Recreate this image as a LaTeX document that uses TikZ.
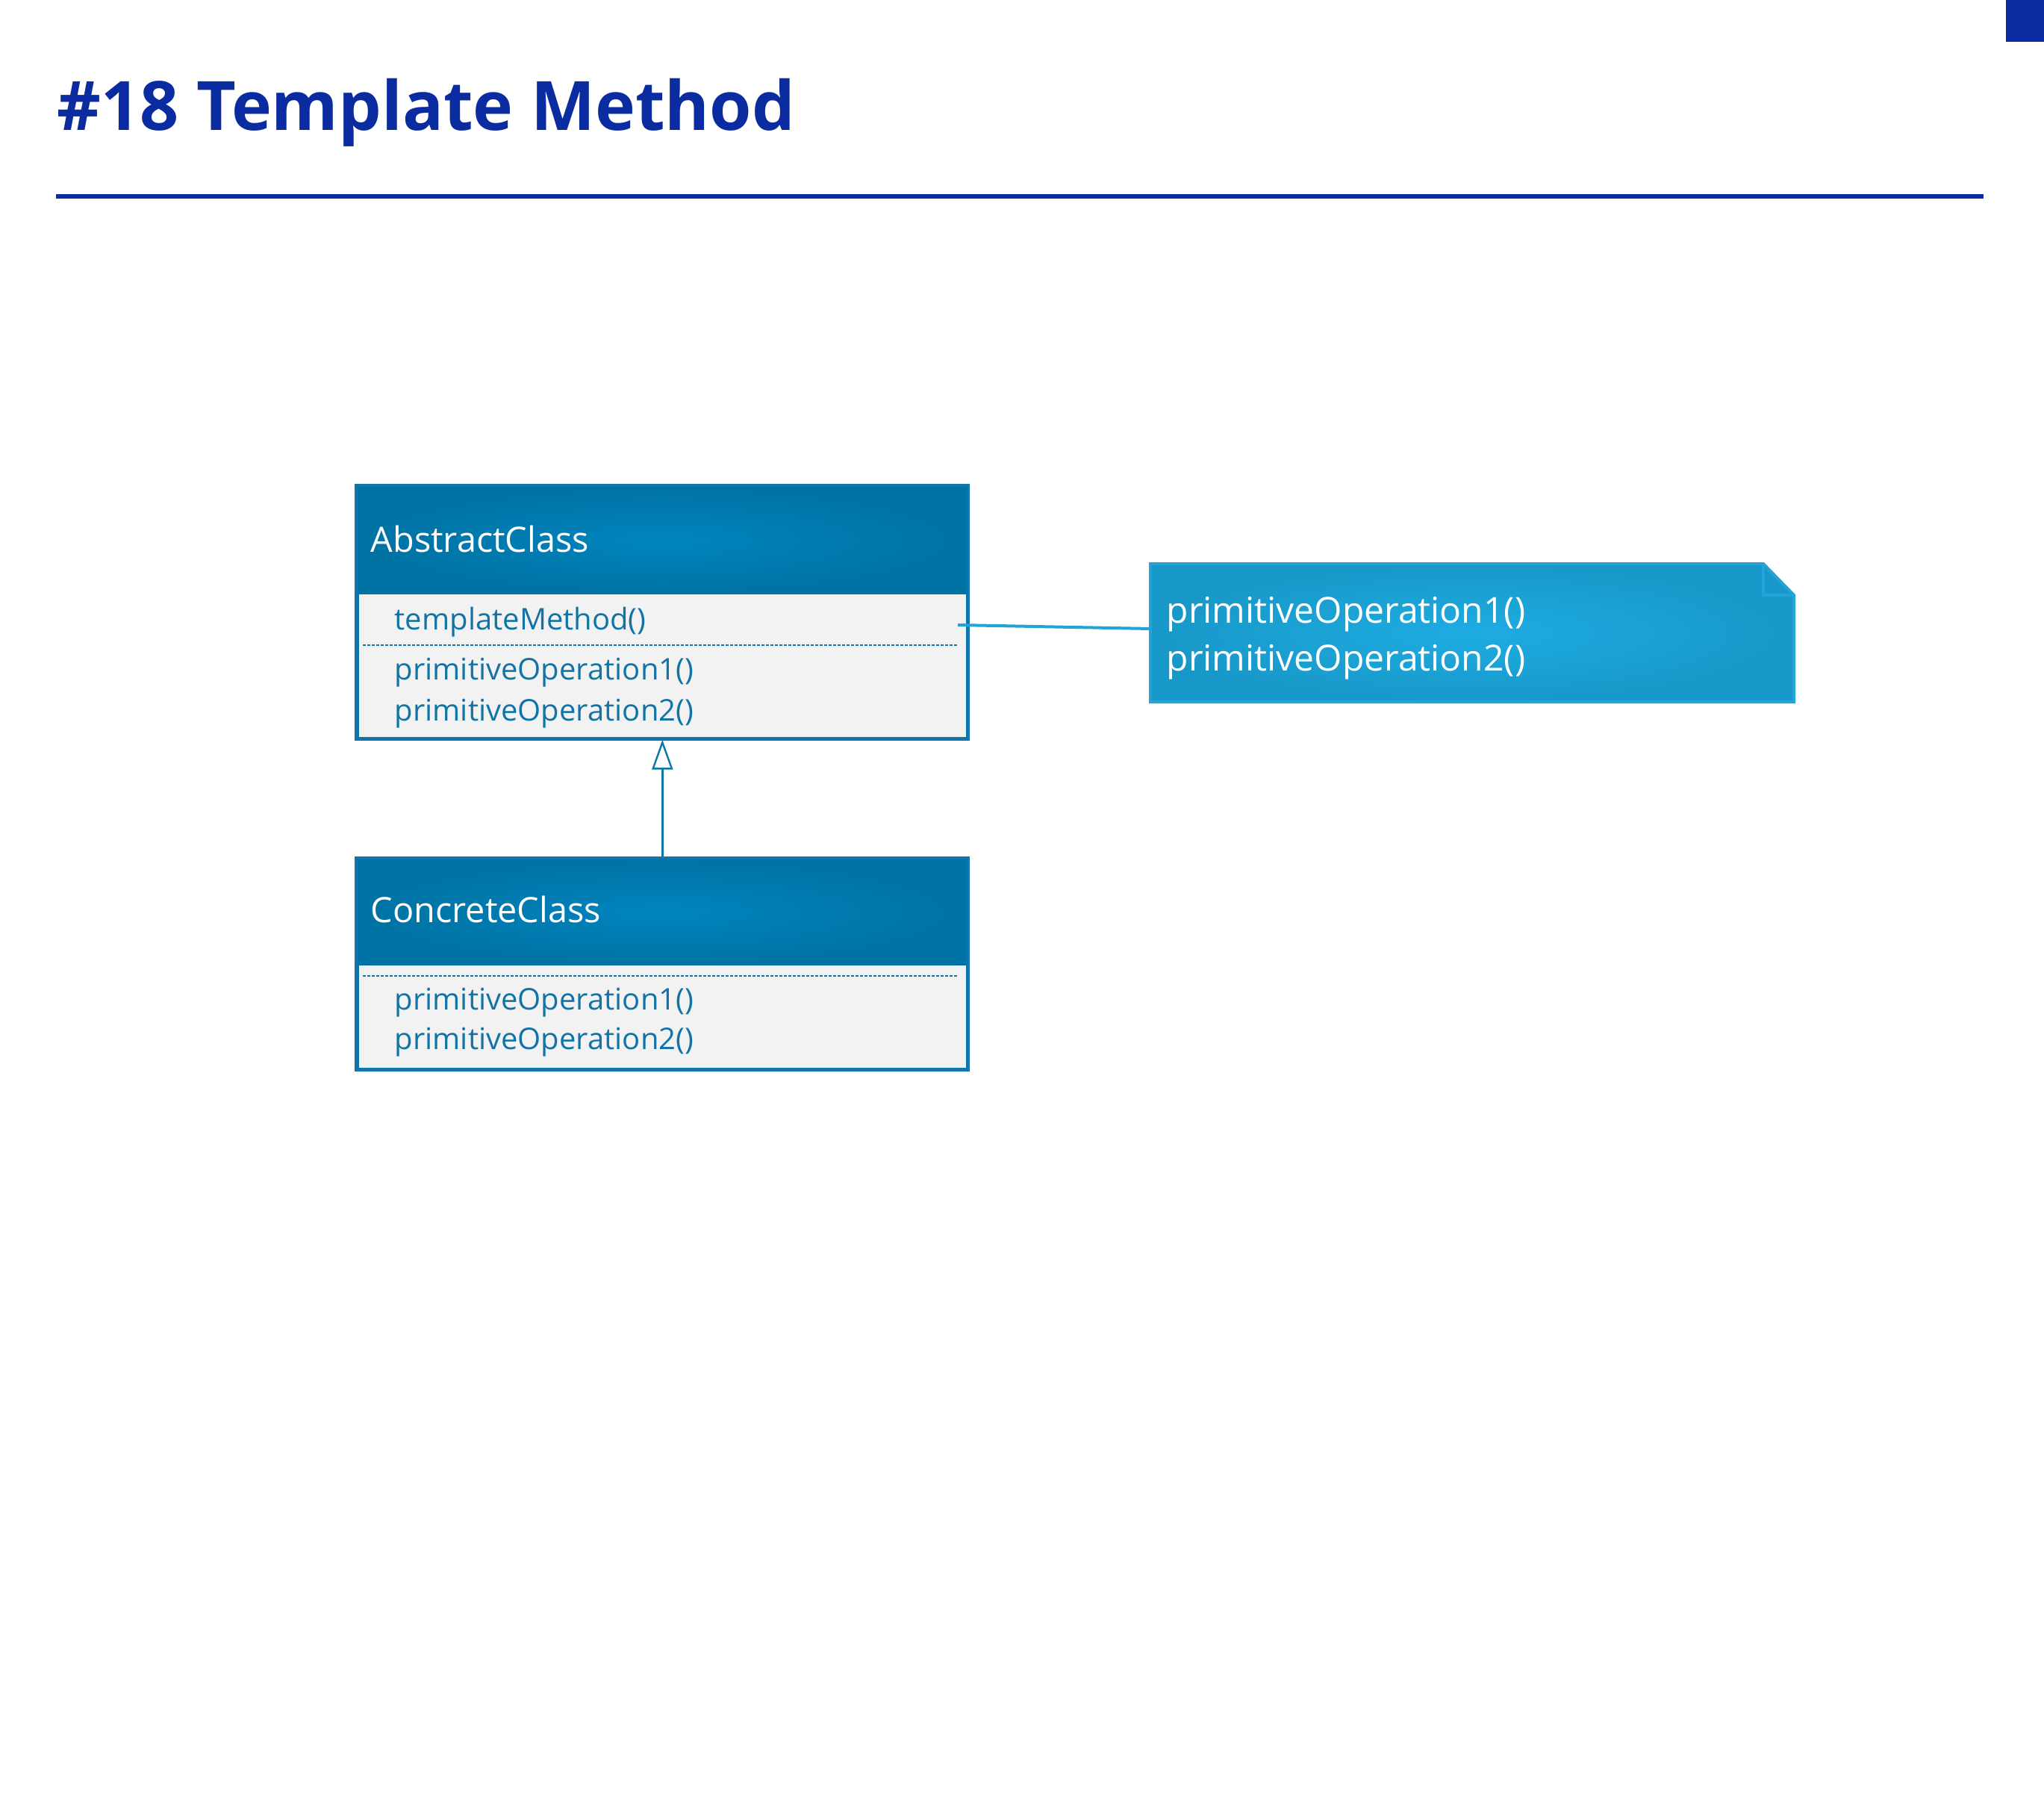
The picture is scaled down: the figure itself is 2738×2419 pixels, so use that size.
\documentclass[tikz,border=0pt]{standalone}
\usepackage{fontspec}
\setmainfont{Open Sans}
\usetikzlibrary{arrows.meta}
\definecolor{titleblue}{RGB}{11,44,160}
\definecolor{headA}{RGB}{0,133,190}
\definecolor{headB}{RGB}{0,114,163}
\definecolor{clsborder}{RGB}{16,118,170}
\definecolor{bodyfill}{RGB}{242,242,242}
\definecolor{bodytext}{RGB}{18,116,166}
\definecolor{noteA}{RGB}{30,172,226}
\definecolor{noteB}{RGB}{24,152,200}
\definecolor{noteline}{RGB}{34,164,216}
\begin{document}
\begin{tikzpicture}[x=0.25pt,y=-0.25pt,
  classbox/.style={draw=clsborder, line width=0.9pt, fill=bodyfill, anchor=north west, inner sep=0pt, minimum width=204.25pt},
  headbox/.style={anchor=north west, inner sep=0pt, minimum width=204.25pt, shading=radial, inner color=headA, outer color=headB},
  headtext/.style={anchor=base west, inner sep=0pt, text=white, font=\fontsize{11.7pt}{14pt}\selectfont},
  optext/.style={anchor=base west, inner sep=0pt, text=bodytext, font=\fontsize{10pt}{12pt}\selectfont},
  notetext/.style={anchor=base west, inner sep=0pt, text=white, font=\fontsize{12pt}{14pt}\selectfont},
  sepline/.style={draw=clsborder, line width=0.5pt, dash pattern=on 1pt off 0.5pt},
  outline/.style={draw=clsborder, line width=0.9pt}
]
\useasboundingbox (0,0) rectangle (2738,2419);
% title
\node[anchor=base west, inner sep=0pt, text=titleblue, font=\fontsize{22.8pt}{28pt}\selectfont\bfseries] (title) at (76,175) {\#18 Template Method};
\fill[titleblue] (75,260) rectangle (2657,266);
\fill[titleblue] (2687,0) rectangle (2738,56);

% AbstractClass
\node[classbox, minimum height=84.25pt] (abs) at (477,650) {};
\node[headbox, minimum height=36.25pt] (absH) at (477,650) {};
\draw[outline] (abs.north west) rectangle (abs.south east);
\node[headtext] (absName) at (496,739) {AbstractClass};
\node[optext] (absTm) at (528,843) {templateMethod()};
\draw[sepline] (486,864) -- (1283,864);
\node[optext] (absP1) at (528,910) {primitiveOperation1()};
\node[optext] (absP2) at (528,965) {primitiveOperation2()};
\coordinate (tmEnd) at (1283,837);

% ConcreteClass
\node[classbox, minimum height=70.25pt] (conc) at (477,1149) {};
\node[headbox, minimum height=35.75pt] (concH) at (477,1149) {};
\draw[outline] (conc.north west) rectangle (conc.south east);
\node[headtext] (concName) at (496,1235) {ConcreteClass};
\draw[sepline] (486,1307) -- (1283,1307);
\node[optext] (concP1) at (528,1352) {primitiveOperation1()};
\node[optext] (concP2) at (528,1405) {primitiveOperation2()};

% note
\shadedraw[inner color=noteA, outer color=noteB, draw=noteline, line width=1pt]
  (1541,755) -- (2362,755) -- (2403,797) -- (2403,940) -- (1541,940) -- cycle;
\draw[noteline, line width=1pt] (2362,755) -- (2362,797) -- (2403,797);
\coordinate (noteW) at (1541,842);
\node[notetext] (note1) at (1562,834) {primitiveOperation1()};
\node[notetext] (note2) at (1562,898) {primitiveOperation2()};

% connectors
\draw[noteline, line width=1pt] (tmEnd) -- (noteW);
\draw[clsborder, line width=0.6pt, -{Triangle[open, fill=white, length=10pt, width=7pt]}] (conc.north) -- (abs.south);
\end{tikzpicture}
\end{document}
